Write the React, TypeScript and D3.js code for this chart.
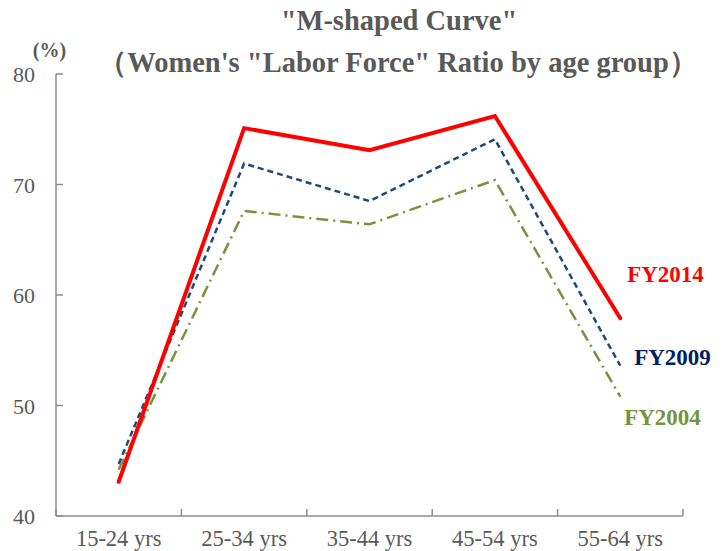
import React, { useEffect, useRef } from 'react'
import * as d3 from 'd3'

const categories = ['15-24 yrs', '25-34 yrs', '35-44 yrs', '45-54 yrs', '55-64 yrs']
const fy2014 = [43.1, 75.1, 73.1, 76.2, 57.9]
const fy2009 = [44.7, 71.9, 68.5, 74.1, 53.6]
const fy2004 = [44.2, 67.6, 66.4, 70.4, 50.8]
const yTicks = [40, 50, 60, 70, 80]

const series = [
  { name: 'FY2014', values: fy2014, color: '#ff0000', label: '#ff0000', width: 4, dash: null, lx: 665.5, ly: 282 },
  { name: 'FY2009', values: fy2009, color: '#1f497d', label: '#002060', width: 2.5, dash: '6,4', lx: 672.5, ly: 365 },
  { name: 'FY2004', values: fy2004, color: '#77933c', label: '#77933c', width: 2.5, dash: '12,5,2,5', lx: 662.5, ly: 425 },
]

const SERIF = 'Liberation Serif, Times New Roman, serif'

export default function App() {
  const svgRef = useRef<SVGSVGElement>(null)

  useEffect(() => {
    if (!svgRef.current) return
    const svg = d3.select(svgRef.current)
    svg.selectAll('*').remove()

    const left = 56
    const right = 683
    const top = 74
    const bottom = 516
    const gray = '#595959'
    const axisColor = '#8c8c8c'

    const x = d3.scaleBand().domain(categories).range([left, right])
    const y = d3.scaleLinear().domain([40, 80]).range([bottom, top])

    const txt = (sel: any) => sel.style('font-family', SERIF)

    // Titles
    svg.append('text')
      .call(txt)
      .attr('x', 399).attr('y', 30)
      .attr('text-anchor', 'middle')
      .attr('font-weight', 'bold')
      .attr('font-size', 28.5)
      .attr('fill', gray)
      .text('"M-shaped Curve"')
    svg.append('text')
      .call(txt)
      .attr('x', 398).attr('y', 72)
      .attr('text-anchor', 'middle')
      .attr('font-weight', 'bold')
      .attr('font-size', 28.5)
      .attr('fill', gray)
      .text('（Women\'s "Labor Force" Ratio by age group）')

    svg.append('text')
      .call(txt)
      .attr('x', 49.5).attr('y', 57)
      .attr('text-anchor', 'middle')
      .attr('font-weight', 'bold')
      .attr('font-size', 20)
      .attr('fill', gray)
      .text('(%)')

    // Y axis
    const yAxis = svg.append('g')
    yAxis.append('line')
      .attr('x1', left).attr('x2', left)
      .attr('y1', top).attr('y2', bottom)
      .attr('stroke', axisColor).attr('stroke-width', 1.5)
    yTicks.forEach(t => {
      yAxis.append('line')
        .attr('x1', left).attr('x2', left + 7)
        .attr('y1', y(t)).attr('y2', y(t))
        .attr('stroke', axisColor).attr('stroke-width', 1.5)
      yAxis.append('text')
        .call(txt)
        .attr('x', 35).attr('y', y(t) + 8)
        .attr('text-anchor', 'end')
        .attr('font-size', 22)
        .attr('fill', gray)
        .text(t)
    })

    // X axis
    const xAxis = svg.append('g')
    xAxis.append('line')
      .attr('x1', left).attr('x2', right)
      .attr('y1', bottom).attr('y2', bottom)
      .attr('stroke', axisColor).attr('stroke-width', 1.5)
    const edges = categories.map(c => x(c) as number).concat([right])
    edges.forEach(e => {
      xAxis.append('line')
        .attr('x1', e).attr('x2', e)
        .attr('y1', bottom).attr('y2', bottom - 7)
        .attr('stroke', axisColor).attr('stroke-width', 1.5)
    })
    categories.forEach(c => {
      xAxis.append('text')
        .call(txt)
        .attr('x', (x(c) as number) + x.bandwidth() / 2)
        .attr('y', 545.5)
        .attr('text-anchor', 'middle')
        .attr('font-size', 22.5)
        .attr('fill', gray)
        .text(c)
    })

    const line = d3.line<number>()
      .x((_, i) => (x(categories[i]) as number) + x.bandwidth() / 2)
      .y(d => y(d))

    // draw older series first so FY2014 is on top
    series.slice().reverse().forEach(s => {
      svg.append('path')
        .attr('d', line(s.values))
        .attr('fill', 'none')
        .attr('stroke', s.color)
        .attr('stroke-width', s.width)
        .attr('stroke-linecap', s.dash ? 'butt' : 'round')
        .attr('stroke-linejoin', 'miter')
        .attr('stroke-dasharray', s.dash)
    })

    series.forEach(s => {
      svg.append('text')
        .call(txt)
        .attr('x', s.lx).attr('y', s.ly)
        .attr('text-anchor', 'middle')
        .attr('font-weight', 'bold')
        .attr('font-size', 23)
        .attr('fill', s.label)
        .text(s.name)
    })
  }, [])

  return <svg ref={svgRef} width={724} height={551} style={{ display: 'block', margin: '-8px 0 0 -8px' }} />
}
